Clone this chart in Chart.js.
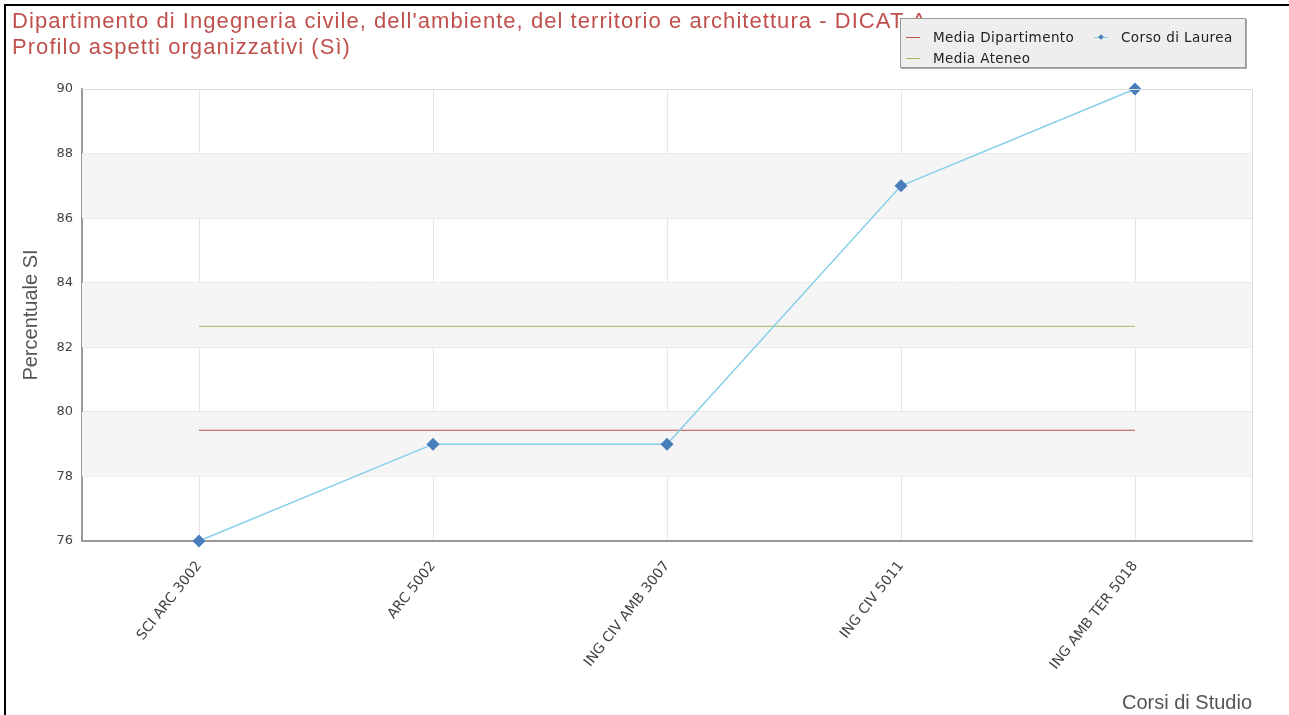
<!DOCTYPE html>
<html>
<head>
<meta charset="utf-8">
<script src="https://cdn.jsdelivr.net/npm/chart.js@4.4.0/dist/chart.umd.min.js"></script>
<style>
  html, body { margin: 0; padding: 0; background: #fff; }
  #wrap { position: relative; width: 1289px; height: 715px; overflow: hidden; }
  #frame { position: absolute; left: 4px; top: 4px; right: -10px; bottom: -10px;
           border-left: 2px solid #000; border-top: 2px solid #000; pointer-events: none; }
  #title { position: absolute; left: 12px; top: 8px; white-space: nowrap;
           font: 22px/26px "Liberation Sans", Arial, sans-serif; letter-spacing: 1.05px; color: #c0504d; }
  #legend { position: absolute; left: 900px; top: 18px; width: 346px; height: 50px;
            background: #eeeeee; border: 1px solid #999; box-shadow: 1px 1px 0 #aaa;
            font: 13.5px "DejaVu Sans", sans-serif; letter-spacing: 0.4px; color: #222;
            display: grid; grid-template-columns: 188px 150px; align-content: start;
            padding-top: 7px; box-sizing: border-box; }
  .item { display: flex; align-items: center; height: 21px; padding-left: 5px; }
  .sym { position: relative; width: 14px; height: 10px; margin-right: 13px; }
  .sym .ln { position: absolute; left: 0; right: 0; top: 5px; height: 1px; }
  .sym .pt { position: absolute; left: 5px; top: 3px; width: 4px; height: 4px; transform: rotate(45deg); }
</style>
</head>
<body>
<div id="wrap">
  <canvas id="chart" width="1289" height="715"></canvas>
  <div id="title"></div>
  <div id="legend"></div>
  <div id="frame"></div>
</div>
<script>
// data
const corsi = ['SCI ARC 3002', 'ARC 5002', 'ING CIV AMB 3007', 'ING CIV 5011', 'ING AMB TER 5018'];
const corsoDiLaurea = [76, 79, 79, 87, 90];
const mediaDipartimento = [79.43, 79.43, 79.43, 79.43, 79.43];
const mediaAteneo = [82.65, 82.65, 82.65, 82.65, 82.65];
const yMin = 76;
const yMax = 90;
const yStep = 2;

const titleLines = [
    "Dipartimento di Ingegneria civile, dell'ambiente, del territorio e architettura - DICAT-A",
    "Profilo aspetti organizzativi (Sì)"
];

// alternating grey bands + light frame around the plot area
const plotBackground = {
    id: 'plotBackground',
    beforeDatasetsDraw(chart) {
        const { ctx, chartArea, scales } = chart;
        const y = scales.y;
        ctx.save();
        ctx.fillStyle = '#f5f5f5';
        y.ticks.forEach((t, i) => {
            if (i % 2 === 1 && i < y.ticks.length - 1) {
                const top = y.getPixelForValue(y.ticks[i + 1].value);
                const bot = y.getPixelForValue(t.value);
                ctx.fillRect(chartArea.left, top, chartArea.right - chartArea.left, bot - top);
            }
        });
        ctx.restore();
    },
    afterDraw(chart) {
        const { ctx, chartArea } = chart;
        ctx.save();
        ctx.strokeStyle = '#dddddd';
        ctx.lineWidth = 1;
        ctx.beginPath();
        ctx.moveTo(chartArea.left, chartArea.top + 0.5);
        ctx.lineTo(chartArea.right + 0.5, chartArea.top + 0.5);
        ctx.lineTo(chartArea.right + 0.5, chartArea.bottom);
        ctx.stroke();
        ctx.restore();
    }
};

const tickFont = { family: '"DejaVu Sans", sans-serif', size: 13 };
const axisTitleFont = { family: '"Liberation Sans", Arial, sans-serif', size: 20 };

const chart = new Chart(document.getElementById('chart'), {
    type: 'line',
    plugins: [plotBackground],
    data: {
        labels: corsi,
        datasets: [
            {
                label: 'Media Dipartimento',
                data: mediaDipartimento,
                borderColor: '#c0504d',
                borderWidth: 1,
                pointRadius: 0,
                order: 3
            },
            {
                label: 'Corso di Laurea',
                data: corsoDiLaurea,
                borderColor: '#86cfe8',
                borderWidth: 1.5,
                pointStyle: 'rectRot',
                pointRadius: 6.5,
                pointBackgroundColor: '#4a7ebb',
                pointBorderColor: '#4a7ebb',
                pointBorderWidth: 0,
                clip: false,
                order: 1
            },
            {
                label: 'Media Ateneo',
                data: mediaAteneo,
                borderColor: '#9bbb59',
                borderWidth: 1,
                pointRadius: 0,
                order: 2
            }
        ]
    },
    options: {
        responsive: false,
        animation: false,
        layout: { padding: { left: 12, right: 37, top: 89, bottom: 0 } },
        plugins: {
            legend: { display: false },
            tooltip: { enabled: false },
            title: { display: false }
        },
        scales: {
            x: {
                offset: true,
                grid: { offset: false, color: '#e6e6e6', drawTicks: false },
                border: { color: '#999999', width: 2 },
                ticks: {
                    minRotation: 52,
                    maxRotation: 52,
                    color: '#444',
                    padding: 17,
                    font: { family: '"DejaVu Sans", sans-serif', size: 14 }
                },
                title: {
                    display: true,
                    text: 'Corsi di Studio',
                    align: 'end',
                    color: '#555',
                    font: axisTitleFont,
                    padding: { top: 0, bottom: 0 }
                },
                afterFit(scale) { scale.height = 174; }
            },
            y: {
                min: yMin,
                max: yMax,
                ticks: {
                    stepSize: yStep,
                    color: '#444',
                    padding: 9,
                    font: tickFont
                },
                grid: { color: '#e6e6e6', drawTicks: false },
                border: { color: '#999999', width: 2 },
                title: {
                    display: true,
                    text: 'Percentuale SI',
                    color: '#555',
                    font: axisTitleFont,
                    padding: { top: 7, bottom: 0 }
                },
                afterFit(scale) { scale.width = 70; }
            }
        }
    }
});

// title lines
const titleEl = document.getElementById('title');
titleEl.innerHTML = titleLines.map((t) => t.replace(/&/g, '&amp;').replace(/</g, '&lt;')).join('<br>');

// legend box built from the chart's datasets
const legendEl = document.getElementById('legend');
chart.data.datasets.forEach((ds) => {
    const item = document.createElement('div');
    item.className = 'item';
    const sym = document.createElement('span');
    sym.className = 'sym';
    const ln = document.createElement('span');
    ln.className = 'ln';
    ln.style.background = ds.borderColor;
    sym.appendChild(ln);
    if (ds.pointRadius) {
        const pt = document.createElement('span');
        pt.className = 'pt';
        pt.style.background = ds.pointBackgroundColor;
        sym.appendChild(pt);
    }
    item.appendChild(sym);
    item.appendChild(document.createTextNode(ds.label));
    legendEl.appendChild(item);
});
</script>
</body>
</html>
